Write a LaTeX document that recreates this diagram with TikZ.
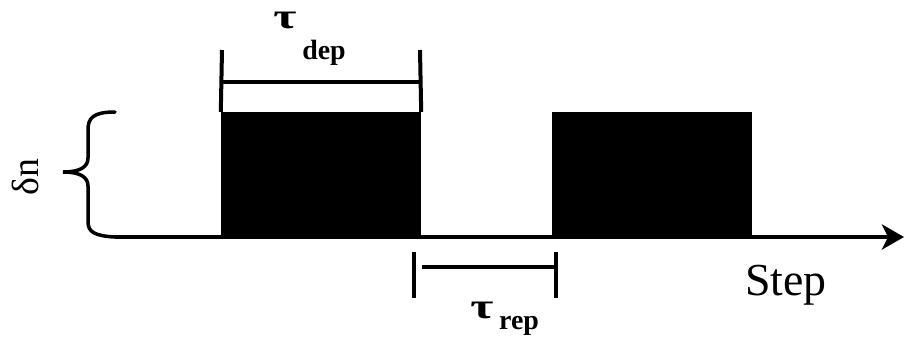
\documentclass[tikz,border=0pt]{standalone}
\usepackage{fontspec}
\setmainfont{Liberation Serif}
\usetikzlibrary{arrows.meta}
\begin{document}
\begin{tikzpicture}[x=1bp,y=-1bp,
  pulse/.style={draw=none,fill=black,inner sep=0pt,minimum width=200bp,minimum height=125bp},
  bar/.style={line width=4bp},
  axisline/.style={line width=4.5bp,-{Stealth[length=22bp,width=25bp,inset=6bp]}},
  bracestyle/.style={line width=3.5bp,line cap=round},
  lbl/.style={inner sep=0pt},
  taulbl/.style={inner sep=0pt,anchor=base,xscale=1.4}]
\useasboundingbox (0,0) rectangle (904,347);
% pulses
\node[pulse] (p1) at (321,174.5) {};
\node[pulse] (p2) at (652,174.5) {};
% brace
\coordinate (bt) at (115,112);
\coordinate (ax) at (115,237);
\draw[bracestyle] (bt) .. controls (93,112) and (88,118) .. (88,130) -- (88,158)
  .. controls (88,167) and (80,172) .. (63,172)
  .. controls (80,172) and (88,177) .. (88,186) -- (88,222)
  .. controls (88,232) and (95,236) .. (ax);
% axis
\coordinate (axend) at (904,237);
\draw[axisline] (ax) -- (axend);
% tau_dep bracket
\coordinate (d1t) at (222,50);
\coordinate (d2t) at (420,50);
\coordinate (d1m) at (222,82);
\coordinate (d2m) at (420,82);
\draw[bar] (d1t) -- (p1.north west);
\draw[bar] (d2t) -- (p1.north east);
\draw[bar] (d1m) -- (d2m);
% tau_rep bracket
\coordinate (r1t) at (414,252);
\coordinate (r1b) at (414,298);
\coordinate (r2t) at (556,252);
\coordinate (r2b) at (556,298);
\coordinate (r1m) at (422,267);
\coordinate (r2m) at (556,267);
\draw[bar] (r1t) -- (r1b);
\draw[bar] (r2t) -- (r2b);
\draw[bar] (r1m) -- (r2m);
% labels
\node[taulbl] (taud) at (285,28) {\fontsize{36}{36}\selectfont\bfseries τ};
\node[lbl] (dep) at (324,53) {\fontsize{28}{28}\selectfont\bfseries dep};
\node[taulbl] (taur) at (482,318) {\fontsize{36}{36}\selectfont\bfseries τ};
\node[lbl] (rep) at (519,326) {\fontsize{28}{28}\selectfont\bfseries rep};
\node[lbl] (step) at (786,285) {\fontsize{46}{46}\selectfont Step};
\node[lbl,rotate=90] (dn) at (25,177) {\fontsize{38}{38}\selectfont δn};
\end{tikzpicture}
\end{document}
